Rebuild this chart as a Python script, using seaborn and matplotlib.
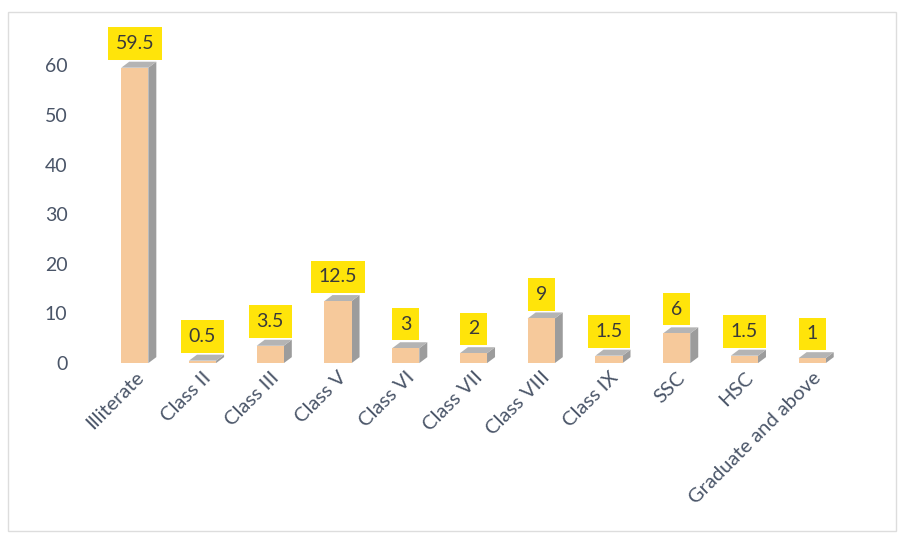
import matplotlib
matplotlib.use("Agg")
import matplotlib.pyplot as plt
from matplotlib.patches import Polygon, Rectangle
import seaborn as sns
import pandas as pd

categories = ["Illiterate", "Class II", "Class III", "Class V", "Class VI", "Class VII",
              "Class VIII", "Class IX", "SSC", "HSC", "Graduate and above"]
values = [59.5, 0.5, 3.5, 12.5, 3, 2, 9, 1.5, 6, 1.5, 1]
value_labels = ["59.5", "0.5", "3.5", "12.5", "3", "2", "9", "1.5", "6", "1.5", "1"]
y_ticks = [0, 10, 20, 30, 40, 50, 60]

FRONT = "#F6C99B"
SIDE = "#9C9C9C"
TOP = "#B4B4B4"
LABEL_BG = "#FFE40A"
TEXT = "#4A5568"

sns.set_theme(style="white")
plt.rcParams["font.family"] = ["Lato", "DejaVu Sans"]

df = pd.DataFrame({"level": categories, "pct": values})

fig = plt.figure(figsize=(9.01, 5.42), dpi=100)
ax = fig.add_axes([0.112, 0.330, 0.827, 0.568])

sns.barplot(data=df, x="level", y="pct", color=FRONT, width=0.4,
            saturation=1, linewidth=0, ax=ax, zorder=3)

ax.set_xlim(-0.5, len(categories) - 0.5)
ax.set_ylim(0, 62)
ax.set_yticks(y_ticks)
ax.set_xlabel("")
ax.set_ylabel("")
for s in ax.spines.values():
    s.set_visible(False)
ax.tick_params(axis="both", length=0, colors=TEXT)
ax.tick_params(axis="y", pad=24, labelsize=14)
ax.set_xticks(range(len(categories)))
ax.set_xticklabels(categories, rotation=45, ha="right", rotation_mode="anchor",
                   fontsize=14.5)
ax.tick_params(axis="x", pad=4)

# extrusion depth of each bar, in pixels converted to data units
fig.canvas.draw()
p0 = ax.transData.transform((0, 0))
p1 = ax.transData.transform((1, 1))
dx = 8 / (p1[0] - p0[0])
dy = 6 / (p1[1] - p0[1])

for bar, label in zip(ax.patches, value_labels):
    x, w, h = bar.get_x(), bar.get_width(), bar.get_height()
    side = Polygon([(x + w, 0), (x + w + dx, dy), (x + w + dx, h + dy), (x + w, h)],
                   closed=True, facecolor=SIDE, edgecolor="none", zorder=2.9)
    top = Polygon([(x, h), (x + dx, h + dy), (x + w + dx, h + dy), (x + w, h)],
                  closed=True, facecolor=TOP, edgecolor="none", zorder=2.9)
    ax.add_patch(side)
    ax.add_patch(top)
    ax.annotate(label, (x + w / 2, h + dy), xytext=(0, 7), textcoords="offset points",
                ha="center", va="bottom", fontsize=14, color="#3A3A3A",
                annotation_clip=False, zorder=5,
                bbox=dict(boxstyle="square,pad=0.4", facecolor=LABEL_BG, edgecolor="none"))

# light chart frame
fig.patches.append(Rectangle((0.009, 0.02), 0.985, 0.958, transform=fig.transFigure,
                             fill=False, edgecolor="#DDDDDD", linewidth=1))

fig.savefig("out.png", dpi=100)
